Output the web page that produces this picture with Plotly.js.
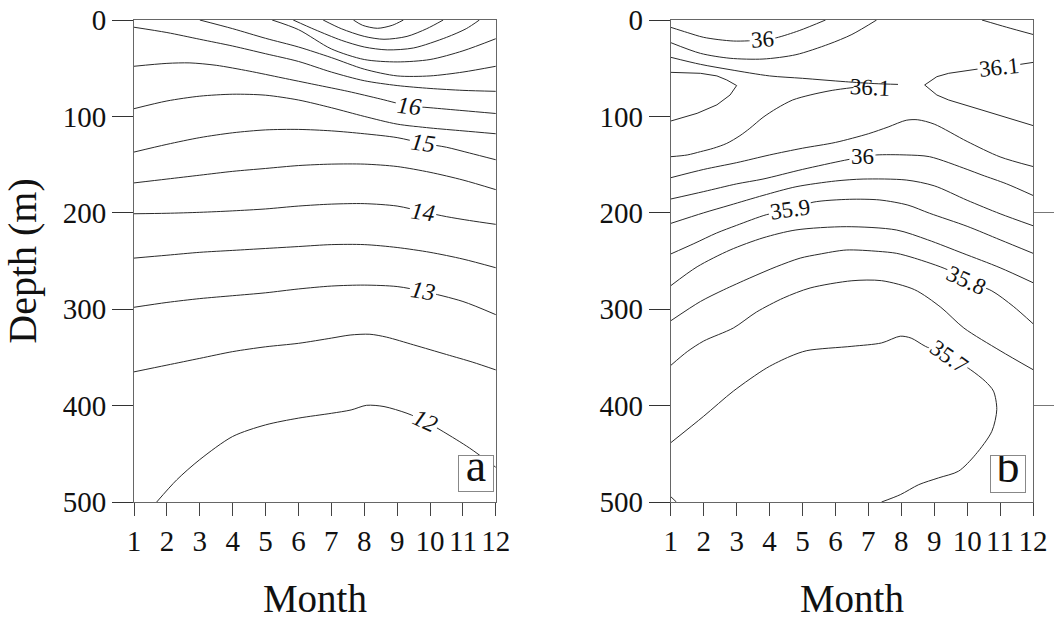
<!DOCTYPE html>
<html>
<head>
<meta charset="utf-8">
<script src="https://cdn.plot.ly/plotly-3.0.1.min.js"></script>
<style>html,body{margin:0;padding:0;background:#fff;}#chart{width:1059px;height:620px;}</style>
</head>
<body>
<div id="chart"></div>
<script>
// ---------- DATA: months on x, depth (m) on y ----------
const months = [1,2,3,4,5,6,7,8,9,10,11,12];
const depthTicks = [0,100,200,300,400,500];

// Panel a: temperature isotherms, each line as [month, depth] points
const t19   = [[7.67,0],[7.95,5.5],[8.4,8.6],[8.85,5.5],[9.19,0]];
const t18_5 = [[6.75,0],[7.3,9],[8,17],[8.6,20],[9.3,17],[9.9,9],[10.4,0]];
const t18   = [[5.84,0],[6.5,10],[7.3,21],[8,28],[8.7,31],[9.5,29],[10.5,18],[11.1,9],[11.5,0]];
const t17_5 = [[5.2,0],[6,10],[7,30],[8,41],[9,43.5],[10,41],[11,32],[12,19.4]];
const t17   = [[3.0,0],[4,9],[5,19],[6,28],[7,39],[8,51],[9,58],[10,58],[11,54],[12,48]];
const t16_5 = [[1,7.5],[2,13],[3,20],[4,27],[5,35],[6,43],[7,54],[8,63],[9,68],[10,71],[11,73],[12,74]];
const t16   = [[1,48],[2,45],[2.7,44.5],[3.5,47],[4.5,53],[5.5,60],[6.5,67],[7.5,74],[8.5,82],[9.35,89],[10,91],[11,94],[12,97]];
const t15_5 = [[1,92],[2,84],[3,79],[4,77],[5,78],[6,83],[7,91],[8,100],[9,108],[10,112],[11,115],[12,118]];
const t15   = [[1,137],[2,129],[3,122],[4,117],[5,114],[6,113.5],[7,115],[8,118],[9,122],[9.8,128],[10.5,132],[11.2,138],[12,145]];
const t14_5 = [[1,169],[2,165],[3,161],[4,157],[5,154],[6,151],[7,149.5],[8,149.5],[9,152],[10,158],[11,166],[12,176]];
const t14   = [[1,201],[2,200.5],[3,199.5],[4,198],[5,196],[6,193],[7,191],[8,190.5],[9,193],[9.8,199],[10.5,204],[11.2,208],[12,212]];
const t13_5 = [[1,247],[2,244],[3,241],[4,239],[5,237],[6,235],[7,233],[8,233],[9,236],[10,241],[11,248],[12,257]];
const t13   = [[1,298],[2,293],[3,289],[4,286],[5,283],[6,279],[7,276],[8,275],[9,276.5],[9.8,281.5],[11,292],[12,305.7]];
const t12_5 = [[1,365],[2,358],[3,351],[4,344],[5,339],[6,335.4],[7,330],[7.57,326.8],[8.17,326],[8.68,329],[9.5,337],[10.5,347],[11.3,355],[12,363]];
const t12   = [[1.69,500],[2.3,477],[3,456],[4,432],[5,420],[6,413],[7,408],[7.6,404.5],[8.07,399.7],[8.6,401],[9.3,408],[9.86,416.4],[10.4,427],[11.2,444],[12,464]];
const tempLines = [t19,t18_5,t18,t17_5,t17,t16_5,t16,t15_5,t15,t14_5,t14,t13_5,t13,t12_5,t12];

const tempLabelText  = ['16','15','14','13','12'];
const tempLabelMonth = [9.35,9.8,9.8,9.8,9.86];
const tempLabelDepth = [89,128,199,281.5,416.4];

// Panel b: salinity isohalines
const sA   = [[1,7.6],[1.5,13],[2,18],[2.9,21.8],[3.78,20.7],[4.2,18.5],[4.9,11],[5.7,0]];
const sB   = [[1,23.5],[1.9,34.6],[2.8,39.7],[3.8,40.5],[4.8,36],[5.8,25],[6.5,15],[7.25,0]];
const sC   = [[1,38.7],[1.9,46],[2.8,51.5],[4,58],[5,60.5],[6.3,64],[7.2,66],[7.9,66.8]];
const sD   = [[1,141.8],[1.5,140],[1.9,136.6],[2.3,133],[2.7,128],[3.1,120],[3.4,112.4],[3.8,101],[4.22,91.6],[4.7,83],[5.23,77.8],[5.9,73],[6.55,70]];
const sL   = [[1,54.3],[1.9,55.3],[2.4,58],[2.7,62.2],[3.0,68],[2.8,77.8],[2.4,88],[1.8,96.8],[1,104.8]];
const sR   = [[12,44],[11.5,46.5],[10.96,49.4],[10.3,51],[9.44,55.3],[9.08,58.8],[8.71,67.4],[9.08,77.8],[9.44,83],[10.45,93.4],[11.2,101],[12,109.5]];
const sE   = [[10.45,0],[11.2,7.5],[12,15]];
const sG   = [[1,163.6],[2,155],[3,148],[4,140],[5,133],[6,127],[7,118],[7.6,111],[8.15,104],[8.5,103.5],[9,108],[10,126],[11,142],[12,152]];
const sH   = [[1,185.7],[2,178],[3,170],[3.8,165],[5,155],[6.28,145.5],[6.83,142],[7.24,140],[8.15,140],[8.86,141.8],[10,155],[10.45,160.8],[11.2,170],[12,182]];
const sI   = [[1,211],[2,200],[2.8,192],[3.8,182],[4.8,173],[6,167],[6.84,165],[8.15,166],[9,172],[10,187],[11,201],[12,213.4]];
const sJ   = [[1,242.7],[1.7,232],[2.39,221],[3,213],[3.9,202],[4.61,197],[5.32,189],[6.43,186],[7.35,186.7],[8.2,192],[8.86,200.5],[10,214],[11,228],[12,242]];
const sK   = [[1,275.6],[1.8,256],[2.8,238.6],[3.8,226],[4.8,217.8],[6.33,214.4],[7.85,217.8],[8.8,228],[9.87,242],[11,257],[12,272.5]];
const sL8  = [[1,312],[1.9,292],[2.6,280],[3.4,267.6],[4.2,256],[4.93,247],[5.5,243],[6.33,238.6],[7.3,240],[7.85,242],[8.4,247],[9.4,259],[9.98,270.5],[10.75,281],[11.4,297],[12,315]];
const sM   = [[1,358.3],[1.5,344],[2,333],[2.9,319.5],[3.6,303],[4.42,288.4],[5.23,278],[6.5,270.5],[7.4,270.4],[8.4,279.7],[9.2,298],[9.9,319.5],[11,343],[12,362.7]];
const sN   = [[1,438.5],[2,411],[2.9,385],[3.91,361],[4.62,349],[5.13,343],[6.5,338.5],[7.4,335],[7.97,328],[8.3,330],[8.73,338.5],[9.44,349],[10.1,362.7],[10.55,374.8],[10.8,385],[10.9,404],[10.75,426.7],[10.25,451],[9.74,468],[9.13,475],[8.53,482],[7.97,492.4],[7.4,500]];
const sCorner = [[1,494.5],[1.17,500]];
const salSmooth = [sA,sB,sC,sD,sE,sG,sH,sI,sJ,sK,sL8,sM,sN,sCorner];
const salSharp  = [sL,sR];

const salLabelText  = ['36','36.1','36.1','36','35.9','35.8','35.7'];
const salLabelMonth = [3.78,7.04,10.96,6.83,4.61,9.98,9.44];
const salLabelDepth = [20.7,69.5,49.4,141.8,197,270.5,348.9];

// ---------- BUILD ----------
const FONT = 'Liberation Serif, Times New Roman, serif';
const LINE = {color:'#2a2a2a', width:1};
function lineTrace(pts, xa, ya, shape){
  return {type:'scatter', mode:'lines', x:pts.map(p=>p[0]), y:pts.map(p=>p[1]),
    xaxis:xa, yaxis:ya, hoverinfo:'skip', showlegend:false,
    line:Object.assign({shape:shape, smoothing:0.8}, LINE)};
}
const traces = [];
tempLines.forEach(p=>traces.push(lineTrace(p,'x','y','spline')));
salSmooth.forEach(p=>traces.push(lineTrace(p,'x2','y2','spline')));
salSharp.forEach(p=>traces.push(lineTrace(p,'x2','y2','linear')));
// invisible trace for right-side ticks on panel b
traces.push({type:'scatter', mode:'lines', x:[], y:[], xaxis:'x2', yaxis:'y3', showlegend:false, hoverinfo:'skip'});

const tempAngles = [6,8,8,10,25];
const salAngles  = [-4,3,-6,0,-8,25,35];
const salBg      = ['white',null,'white','white','white','white','white'];
const annotations = [];
tempLabelText.forEach((t,i)=>annotations.push({
  x:tempLabelMonth[i], y:tempLabelDepth[i], xref:'x', yref:'y', text:t, showarrow:false,
  textangle:tempAngles[i], bgcolor:'white', borderpad:1,
  font:{family:FONT, size:24, color:'#111', style:'italic'}
}));
salLabelText.forEach((t,i)=>annotations.push({
  x:salLabelMonth[i], y:salLabelDepth[i], xref:'x2', yref:'y2', text:t, showarrow:false,
  textangle:salAngles[i], bgcolor:salBg[i] || 'rgba(0,0,0,0)', borderpad:1,
  font:{family:FONT, size:23, color:'#111'}
}));
// panel letters
annotations.push({xref:'x domain', yref:'y domain', x:1, y:0, xanchor:'right', yanchor:'bottom',
  xshift:-1.5, yshift:10.5, text:'a', showarrow:false, width:34, height:35, bgcolor:'white',
  bordercolor:'#888', borderwidth:1, borderpad:0, valign:'bottom',
  font:{family:FONT, size:46, color:'#111'}});
annotations.push({xref:'x2 domain', yref:'y2 domain', x:1, y:0, xanchor:'right', yanchor:'bottom',
  xshift:-7.5, yshift:9.5, text:'b', showarrow:false, width:34, height:36, bgcolor:'white',
  bordercolor:'#888', borderwidth:1, borderpad:0, valign:'bottom',
  font:{family:FONT, size:46, color:'#111'}});

const tickFont = {family:FONT, size:29, color:'#111'};
const xCommon = {range:[1,12], tickvals:months, ticktext:months.map(String), ticks:'outside', ticklen:13,
  tickcolor:'#444', tickwidth:1, showline:true, linecolor:'#666', linewidth:1, mirror:true,
  showgrid:false, zeroline:false, tickfont:tickFont, automargin:false,
  title:{text:'Month', font:{family:FONT, size:39, color:'#111'}, standoff:35}};
const yCommon = {range:[500,0], tickvals:depthTicks, ticks:'outside', ticklen:21, tickcolor:'#333',
  tickwidth:1, showline:true, linecolor:'#666', linewidth:1, mirror:true, showgrid:false,
  zeroline:false, tickfont:tickFont, automargin:false};

const layout = {
  width:1059, height:620, paper_bgcolor:'white', plot_bgcolor:'white',
  margin:{l:134, r:25.7, t:20, b:118},
  showlegend:false,
  xaxis:Object.assign({}, xCommon, {domain:[0,0.4025], anchor:'y'}),
  yaxis:Object.assign({}, yCommon, {domain:[0,1], anchor:'x',
    title:{text:'Depth (m)', font:{family:FONT, size:40, color:'#111'}, standoff:14}}),
  xaxis2:Object.assign({}, xCommon, {domain:[0.5971,1], anchor:'y2'}),
  yaxis2:Object.assign({}, yCommon, {domain:[0,1], anchor:'x2'}),
  yaxis3:{overlaying:'y2', anchor:'x2', side:'right', range:[500,0], tickvals:[200,400],
    ticks:'outside', ticklen:20, tickcolor:'#777', showticklabels:false, showline:false,
    showgrid:false, zeroline:false},
  annotations:annotations
};
Plotly.newPlot('chart', traces, layout, {staticPlot:true, displayModeBar:false});
</script>
</body>
</html>
